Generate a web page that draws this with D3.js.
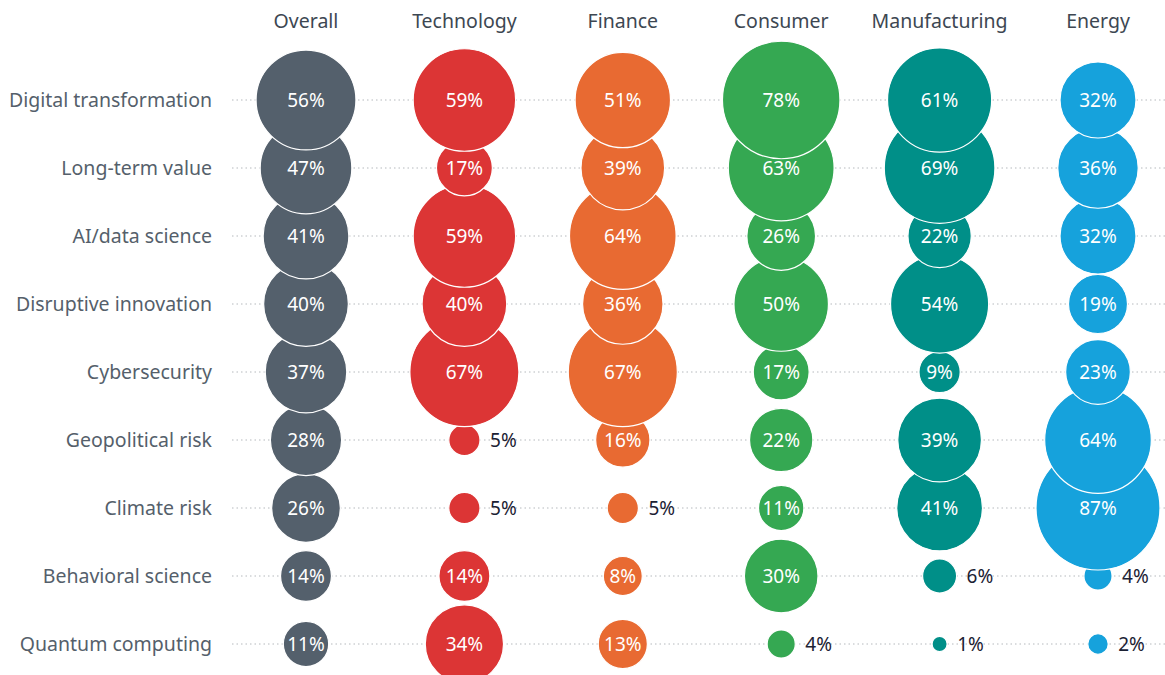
<!DOCTYPE html>
<html>
<head>
<meta charset="utf-8">
<script src="https://cdn.jsdelivr.net/npm/d3@7"></script>
<style>
  body { margin: 0; background: #fff; }
  svg text { font-family: "Noto Sans", sans-serif; }
</style>
</head>
<body>
<script>
// row categories and column sectors
const categories = ["Digital transformation", "Long-term value", "AI/data science", "Disruptive innovation",
  "Cybersecurity", "Geopolitical risk", "Climate risk", "Behavioral science", "Quantum computing"];
const sectors = ["Overall", "Technology", "Finance", "Consumer", "Manufacturing", "Energy"];

const overall = [56, 47, 41, 40, 37, 28, 26, 14, 11];
const technology = [59, 17, 59, 40, 67, 5, 5, 14, 34];
const finance = [51, 39, 64, 36, 67, 16, 5, 8, 13];
const consumer = [78, 63, 26, 50, 17, 22, 11, 30, 4];
const manufacturing = [61, 69, 22, 54, 9, 39, 41, 6, 1];
const energy = [32, 36, 32, 19, 23, 64, 87, 4, 2];

const series = [overall, technology, finance, consumer, manufacturing, energy];
const colors = ["#54606c", "#dc3535", "#e86a32", "#35a852", "#008f88", "#16a2dc"];

const w = 1165, h = 675;

const svg = d3.select("body").append("svg")
  .attr("width", w)
  .attr("height", h);

const x = d3.scalePoint().domain(sectors).range([306, 1098]);
const y = d3.scalePoint().domain(categories).range([100, 644]);
const r = d3.scaleSqrt().domain([0, 87]).range([1, 62]);

// dotted row lines
svg.append("g").selectAll("line")
  .data(categories)
  .enter().append("line")
  .attr("x1", 232)
  .attr("x2", w)
  .attr("y1", d => y(d))
  .attr("y2", d => y(d))
  .attr("stroke", "#b5b9bd")
  .attr("stroke-width", 1)
  .attr("stroke-dasharray", "1.5,3");

// row labels
svg.append("g").selectAll("text")
  .data(categories)
  .enter().append("text")
  .attr("x", 212)
  .attr("y", d => y(d))
  .attr("dy", "0.35em")
  .attr("text-anchor", "end")
  .attr("fill", "#555f6b")
  .style("font-size", "19.5px")
  .text(d => d);

// column headers
svg.append("g").selectAll("text")
  .data(sectors)
  .enter().append("text")
  .attr("x", d => x(d))
  .attr("y", 28)
  .attr("text-anchor", "middle")
  .attr("fill", "#3d4752")
  .style("font-size", "19.5px")
  .text(d => d);

// bubbles: upper rows sit on top, so draw bottom rows first
const cells = [];
sectors.forEach((s, j) => {
  categories.forEach((c, i) => {
    cells.push({ sector: s, cat: c, value: series[j][i], color: colors[j], row: i });
  });
});
cells.sort((a, b) => b.row - a.row);

svg.append("g").selectAll("circle")
  .data(cells)
  .enter().append("circle")
  .attr("cx", d => x(d.sector))
  .attr("cy", d => y(d.cat))
  .attr("r", d => r(d.value))
  .attr("fill", d => d.color)
  .attr("stroke", "#fff")
  .attr("stroke-width", 1.2);

// value labels
svg.append("g").selectAll("text")
  .data(cells)
  .enter().append("text")
  .attr("x", d => d.value > 7 ? x(d.sector) : x(d.sector) + r(d.value) + 10)
  .attr("y", d => y(d.cat))
  .attr("dy", "0.36em")
  .attr("text-anchor", d => d.value > 7 ? "middle" : "start")
  .attr("fill", d => d.value > 7 ? "#fff" : "#1b2133")
  .style("font-size", "19px")
  .text(d => d.value + "%");
</script>
</body>
</html>
